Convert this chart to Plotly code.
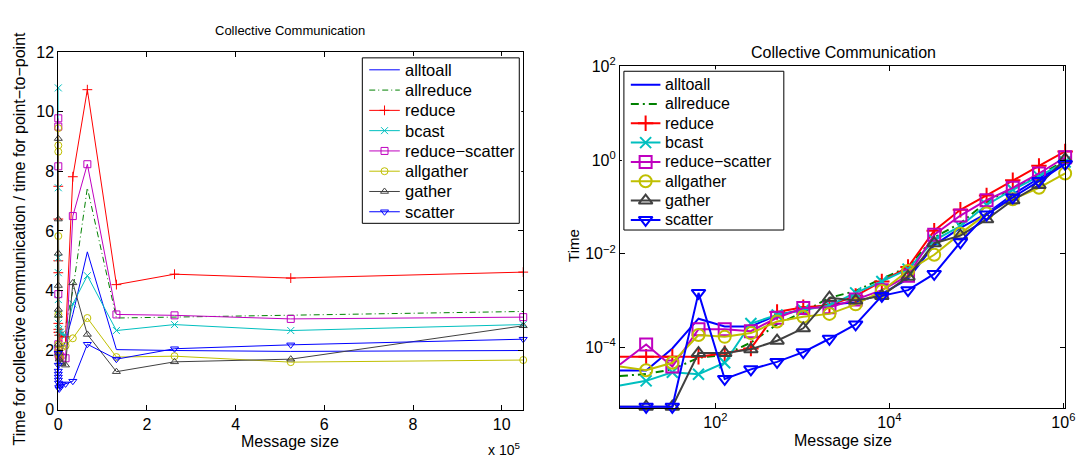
import plotly.graph_objects as go
import math

sizes = [8, 16, 32, 64, 128, 256, 512, 1024, 2048, 4096, 8192, 16384, 32768,
         65536, 131072, 262144, 524288, 1048576]

names = ["alltoall", "allreduce", "reduce", "bcast", "reduce\u2212scatter",
         "allgather", "gather", "scatter"]

# Left: ratio collective / point-to-point
ratio_alltoall = [1.9, 1.8, 1.6, 1.5, 1.4, 1.4, 1.3, 1.5, 1.6, 1.8, 2.0, 2.3, 3.2, 5.3, 2.02, 1.99, 1.96, 1.99]
ratio_allreduce = [6.7, 5.5, 4.5, 3.8, 3.2, 2.9, 2.8, 2.7, 2.7, 2.7, 2.75, 2.8, 4.0, 7.45, 3.08, 3.11, 3.17, 3.3]
ratio_reduce = [7.5, 6.4, 5.0, 4.6, 2.9, 2.7, 2.6, 2.6, 2.5, 2.5, 2.45, 2.45, 7.82, 10.74, 4.2, 4.55, 4.42, 4.62]
ratio_bcast = [10.8, 7.45, 5.1, 4.6, 3.7, 3.2, 2.9, 2.7, 2.6, 2.6, 2.55, 2.5, 3.55, 4.5, 2.66, 2.86, 2.66, 2.86]
ratio_redscat = [9.78, 9.5, 8.17, 3.88, 2.2, 2.0, 1.9, 1.85, 1.8, 1.8, 1.75, 1.73, 6.5, 8.24, 3.2, 3.17, 3.05, 3.11]
ratio_allgather = [9.45, 8.87, 8.66, 5.83, 3.2, 2.2, 2.0, 1.9, 1.8, 1.75, 2.1, 2.15, 2.4, 3.08, 1.77, 1.8, 1.6, 1.67]
ratio_gather = [9.1, 6.4, 5.25, 4.17, 3.37, 3.17, 2.2, 1.9, 1.7, 1.6, 1.55, 1.5, 4.26, 2.53, 1.28, 1.61, 1.7, 2.82]
ratio_scatter = [1.9, 1.5, 1.3, 1.2, 1.1, 1.0, 0.9, 0.75, 0.7, 0.8, 0.85, 0.87, 0.96, 2.2, 1.7, 2.05, 2.18, 2.37]

# Right: absolute time
time_alltoall = [3.2e-5, 3.2e-5, 9.5e-5, 4.1e-4, 2.8e-4, 2.8e-4, 4.9e-4, 6.3e-4, 8.3e-4, 9.1e-4, 1.39e-3, 2.9e-3, 0.0153, 0.0356, 0.072, 0.184, 0.41, 0.83]
time_allreduce = [2.45e-5, 2.7e-5, 3.4e-5, 6.0e-5, 6.9e-5, 1.27e-4, 3.1e-4, 5.7e-4, 1.15e-3, 1.6e-3, 2.94e-3, 5.2e-3, 0.0222, 0.045, 0.126, 0.256, 0.47, 0.98]
time_reduce = [6.3e-5, 6.3e-5, 6.3e-5, 6.3e-5, 7.5e-5, 9.5e-5, 5.7e-4, 7.2e-4, 7.9e-4, 1.26e-3, 2.56e-3, 5.2e-3, 0.031, 0.087, 0.176, 0.372, 0.755, 1.53]
time_bcast = [1.53e-5, 1.93e-5, 2.95e-5, 2.68e-5, 4.7e-5, 3.24e-4, 4.94e-4, 6.25e-4, 7.9e-4, 1.46e-3, 2.56e-3, 4.7e-3, 0.0193, 0.039, 0.11, 0.233, 0.45, 0.91]
time_redscat = [4.3e-5, 1.15e-4, 3.9e-5, 2.44e-4, 2.44e-4, 2.22e-4, 4.3e-4, 6.9e-4, 7.2e-4, 1.05e-3, 1.67e-3, 3.4e-3, 0.0256, 0.0655, 0.139, 0.256, 0.518, 1.15]
time_allgather = [3.9e-5, 3.24e-5, 4.7e-5, 1.84e-4, 1.68e-4, 2.02e-4, 3.56e-4, 4.5e-4, 5.2e-4, 8.3e-4, 1.6e-3, 4.3e-3, 9.5e-3, 0.0269, 0.072, 0.146, 0.256, 0.518]
time_gather = [5.4e-6, 5.4e-6, 5.4e-6, 7.55e-5, 7.55e-5, 9.1e-5, 1.39e-4, 2.56e-4, 1.15e-3, 1.0e-3, 1.26e-3, 3.24e-3, 0.0168, 0.0244, 0.0543, 0.139, 0.294, 1.05]
time_scatter = [5.4e-6, 5.4e-6, 5.4e-6, 1.46e-3, 2.12e-5, 3.4e-5, 4.9e-5, 7.9e-5, 1.53e-4, 3.1e-4, 1.26e-3, 1.67e-3, 3.7e-3, 0.0176, 0.0687, 0.16, 0.356, 0.83]

x_ticks_left = [0, 200000, 400000, 600000, 800000, 1000000]
x_ticklabels_left = ["0", "2", "4", "6", "8", "10"]
y_ticks_left = [0, 2, 4, 6, 8, 10, 12]
x_ticks_right = [100, 10000, 1000000]
x_ticklabels_right = ["10<sup>2</sup>", "10<sup>4</sup>", "10<sup>6</sup>"]
y_ticks_right = [1e-4, 1e-2, 1, 100]
y_ticklabels_right = ["10<sup>\u22124</sup>", "10<sup>\u22122</sup>", "10<sup>0</sup>", "10<sup>2</sup>"]

ratios = [ratio_alltoall, ratio_allreduce, ratio_reduce, ratio_bcast, ratio_redscat,
          ratio_allgather, ratio_gather, ratio_scatter]
times = [time_alltoall, time_allreduce, time_reduce, time_bcast, time_redscat,
         time_allgather, time_gather, time_scatter]

colors = ["rgb(0,0,255)", "rgb(0,128,0)", "rgb(255,0,0)", "rgb(0,191,191)",
          "rgb(191,0,191)", "rgb(191,191,0)", "rgb(64,64,64)", "rgb(0,0,255)"]
symbols = [None, None, "cross-thin", "x-thin", "square-open", "circle-open",
           "triangle-up-open", "triangle-down-open"]

FONT = "Liberation Sans, Arial, Helvetica, sans-serif"
W, H = 1086, 459


def px_x(p):
    return p / W


def px_y(p):
    return (H - p) / H


def style(i, right):
    sym = symbols[i]
    if right:
        dash = "8px,4px,2px,4px" if i == 1 else "solid"
        lw = 2
        msize = 12 if sym not in ("cross-thin", "x-thin") else 11
    else:
        dash = "6px,3px,1px,3px" if i == 1 else "solid"
        lw = 1
        msize = 7
    line = dict(color=colors[i], width=lw, dash=dash)
    marker = dict(symbol=sym, size=msize, color=colors[i],
                  line=dict(color=colors[i], width=lw)) if sym else None
    return line, marker


fig = go.Figure()

for i, name in enumerate(names):
    sym = symbols[i]
    mode = "lines+markers" if sym else "lines"
    line_l, mk_l = style(i, False)
    fig.add_trace(go.Scatter(
        x=sizes, y=ratios[i], name=name, mode=mode, xaxis="x", yaxis="y",
        line=line_l, marker=mk_l, showlegend=False, cliponaxis=False))
for i, name in enumerate(names):
    sym = symbols[i]
    mode = "lines+markers" if sym else "lines"
    line_r, mk_r = style(i, True)
    fig.add_trace(go.Scatter(
        x=sizes, y=times[i], name=name, mode=mode, xaxis="x2", yaxis="y2",
        line=line_r, marker=mk_r, showlegend=False, cliponaxis=False))

axis_common = dict(showline=True, linecolor="black", linewidth=1, mirror="ticks",
                   ticks="inside", ticklen=5, tickcolor="black", showgrid=False,
                   zeroline=False,
                   tickfont=dict(family=FONT, size=16, color="black"))

hidden = dict(visible=False, showgrid=False, zeroline=False, fixedrange=True)

annotations = []


def add_legend(ax, box_l, box_t, box_w, box_h, y0, gap, lx0, lx1, tx, fsize, right):
    pad = 2
    xa = dict(domain=[px_x(box_l - pad), px_x(box_l + box_w + pad)], anchor=f"y{ax}",
              range=[-pad, box_w + pad], **hidden)
    ya = dict(domain=[px_y(box_t + box_h + pad), px_y(box_t - pad)], anchor=f"x{ax}",
              range=[box_h + pad, -pad], **hidden)
    fig.update_layout(**{f"xaxis{ax}": xa, f"yaxis{ax}": ya})
    fig.add_trace(go.Scatter(
        x=[0, box_w, box_w, 0, 0], y=[0, 0, box_h, box_h, 0], mode="lines",
        fill="toself", fillcolor="white", line=dict(color="black", width=1),
        xaxis=f"x{ax}", yaxis=f"y{ax}", showlegend=False, hoverinfo="skip"))
    for k, name in enumerate(names):
        yy = y0 + gap * k - box_t
        line, marker = style(k, right)
        fig.add_trace(go.Scatter(
            x=[lx0 - box_l, lx1 - box_l], y=[yy, yy], mode="lines", line=line,
            xaxis=f"x{ax}", yaxis=f"y{ax}", showlegend=False, hoverinfo="skip"))
        if marker:
            fig.add_trace(go.Scatter(
                x=[(lx0 + lx1) / 2 - box_l], y=[yy], mode="markers", marker=marker,
                xaxis=f"x{ax}", yaxis=f"y{ax}", showlegend=False, hoverinfo="skip",
                cliponaxis=False))
        annotations.append(dict(text=name, x=px_x(tx), y=px_y(y0 + gap * k),
                                xref="paper", yref="paper", showarrow=False,
                                xanchor="left", yanchor="middle",
                                font=dict(family=FONT, size=fsize, color="black")))


fig.update_layout(
    width=W, height=H,
    margin=dict(l=0, r=0, t=0, b=0),
    paper_bgcolor="white", plot_bgcolor="white",
    font=dict(family=FONT, color="black"),
    showlegend=False,
    xaxis=dict(domain=[px_x(55), px_x(526)], anchor="y", range=[0, 1048576],
               tickvals=x_ticks_left, ticktext=x_ticklabels_left, **axis_common),
    yaxis=dict(domain=[px_y(417), px_y(43)], anchor="x", range=[0, 12],
               tickvals=y_ticks_left, **axis_common),
    xaxis2=dict(domain=[px_x(624), px_x(1075)], anchor="y2", type="log",
                range=[math.log10(8), math.log10(1048576)],
                tickvals=x_ticks_right, ticktext=x_ticklabels_right, **axis_common),
    yaxis2=dict(domain=[px_y(415), px_y(58)], anchor="x2", type="log",
                range=[math.log10(5.1e-6), 2],
                tickvals=y_ticks_right, ticktext=y_ticklabels_right, **axis_common),
)

add_legend(3, 363, 49, 159, 173, 61.5, 21.2, 370, 401, 404, 16.5, False)
add_legend(4, 628, 63, 162, 166, 77, 20.2, 635, 665, 668, 16, True)


def ann(text, x, y, size=15, angle=0, xanchor="center", yanchor="middle"):
    annotations.append(dict(text=text, x=px_x(x), y=px_y(y), xref="paper", yref="paper",
                            showarrow=False, textangle=angle, xanchor=xanchor, yanchor=yanchor,
                            font=dict(family=FONT, size=size, color="black")))


ann("Collective Communication", 290, 20, size=13)
ann("Collective Communication", 850, 43, size=16)
ann("Message size", 290, 450, size=16)
ann("Message size", 850, 449, size=16)
ann("x 10<sup>5</sup>", 507, 458, size=14)
ann("Time for collective communication / time for point\u2212to\u2212point", 16, 238, size=16, angle=-90)
ann("Time", 577, 245, size=15, angle=-90)

fig.update_layout(annotations=annotations)

fig.write_html("out.html")
